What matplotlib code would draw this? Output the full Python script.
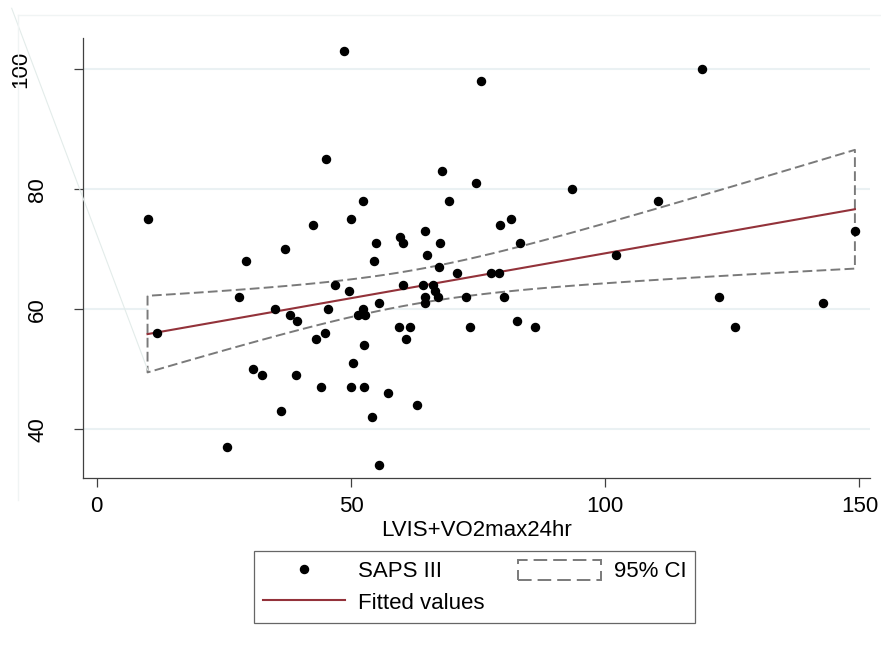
import numpy as np
import matplotlib
matplotlib.use("Agg")
import matplotlib.pyplot as plt
from matplotlib.lines import Line2D
from matplotlib.transforms import blended_transform_factory

plt.rcParams["font.family"] = ["Liberation Sans", "DejaVu Sans"]

# points
lvis_vo2 = [48.7, 75.5, 45.1, 68.0, 74.6, 52.3, 69.3, 42.5, 50.0, 54.9,
            59.7, 60.2, 64.6, 67.6, 37.0, 79.4, 29.3, 54.6, 64.9, 67.3,
            70.9, 77.6, 79.2, 28.0, 46.8, 49.6, 60.3, 64.1, 66.1, 66.5,
            64.6, 67.2, 64.6, 72.6, 55.5, 35.1, 38.1, 39.3, 45.5, 52.3,
            51.3, 52.7, 59.5, 61.6, 60.9, 43.1, 44.9, 52.6, 50.5, 30.7,
            32.6, 39.1, 44.1, 50.0, 52.6, 57.2, 63.0, 36.2, 54.1, 25.7,
            55.5, 10.0, 11.8, 119.1, 93.5, 110.4, 81.5, 83.2, 149.1, 102.1,
            80.0, 73.4, 82.7, 86.1, 122.4, 125.6, 142.9]
saps3 = [103, 98, 85, 83, 81, 78, 78, 74, 75, 71,
         72, 71, 73, 71, 70, 74, 68, 68, 69, 67,
         66, 66, 66, 62, 64, 63, 64, 64, 64, 63,
         62, 62, 61, 62, 61, 60, 59, 58, 60, 60,
         59, 59, 57, 57, 55, 55, 56, 54, 51, 50,
         49, 49, 47, 47, 47, 46, 44, 43, 42, 37,
         34, 75, 56, 100, 80, 78, 75, 71, 73, 69,
         62, 57, 58, 57, 62, 57, 61]

x_ticks = [0, 50, 100, 150]
y_ticks = [40, 60, 80, 100]

x = np.array(lvis_vo2)
y = np.array(saps3)

# linear fit + 95% CI of the mean (like lfitci)
n = len(x)
b, a = np.polyfit(x, y, 1)
resid = y - (a + b * x)
s = np.sqrt(np.sum(resid ** 2) / (n - 2))
sxx = np.sum((x - x.mean()) ** 2)
t_crit = 1.992
xg = np.linspace(x.min(), x.max(), 100)
yg = a + b * xg
se = s * np.sqrt(1.0 / n + (xg - x.mean()) ** 2 / sxx)

FS = 16

fig = plt.figure(figsize=(8.81, 6.45), dpi=100)
ax = fig.add_axes([83 / 881, 1 - 478 / 645, 787 / 881, 440 / 645])

ci = ax.fill_between(xg, yg - t_crit * se, yg + t_crit * se, facecolor="white",
                     edgecolor="#7a7a7a", linewidth=1.4, linestyle=(0, (5, 2.2)),
                     zorder=2, label="95% CI")
pts, = ax.plot(x, y, "o", color="black", markersize=5.8, linestyle="none",
               zorder=4, label="SAPS III")
fit, = ax.plot(xg, yg, color="#93323a", linewidth=1.5, zorder=3,
               label="Fitted values")

ax.set_xlim(-2.69, 152.07)
ax.set_ylim(31.9, 105.2)
ax.set_xticks(x_ticks)
ax.set_yticks(y_ticks)
ax.set_yticklabels([])
ax.grid(axis="y", color="#eaf1f3", linewidth=1.5, zorder=0)
ax.set_axisbelow(True)
for side in ["top", "right"]:
    ax.spines[side].set_visible(False)
for side in ["left", "bottom"]:
    ax.spines[side].set_color("#404040")
    ax.spines[side].set_linewidth(0.9)
ax.tick_params(axis="both", length=6.5, width=0.9, color="#404040",
               labelsize=FS, pad=6.5)

# y tick labels, rotated like the original
tr = blended_transform_factory(fig.transFigure, ax.transData)
for v in y_ticks:
    xpos = 20.5 / 881 if v == 100 else 37.5 / 881
    ax.text(xpos, v, str(v), rotation=90, ha="center", va="center",
            fontsize=FS, transform=tr)

ax.set_xlabel("LVIS+VO2max24hr", fontsize=FS, labelpad=2)

# faint frame artefacts from the original export
fig.add_artist(Line2D([11.7 / 881, 147.7 / 881], [1 - 8.3 / 645, 1 - 370 / 645],
                      color="#e3ecea", linewidth=0.8, zorder=1))
fig.add_artist(Line2D([18 / 881, 1.0], [1 - 15 / 645, 1 - 15 / 645],
                      color="#f0f4f4", linewidth=1.0))
fig.add_artist(Line2D([18 / 881, 18 / 881], [1 - 15 / 645, 1 - 500 / 645],
                      color="#f0f4f4", linewidth=1.0))

leg = fig.legend([pts, fit, ci], ["SAPS III", "Fitted values", "95% CI"],
                 loc="upper left", bbox_to_anchor=(254 / 881, 1 - 551 / 645),
                 ncol=2, fontsize=FS, frameon=True, fancybox=False,
                 handlelength=3.7, handleheight=1.0, handletextpad=0.6,
                 columnspacing=1.5, labelspacing=0.4, borderpad=0.4,
                 borderaxespad=0)
leg.get_frame().set_edgecolor("#404040")
leg.get_frame().set_linewidth(0.9)

fig.savefig("out.png", dpi=100)
